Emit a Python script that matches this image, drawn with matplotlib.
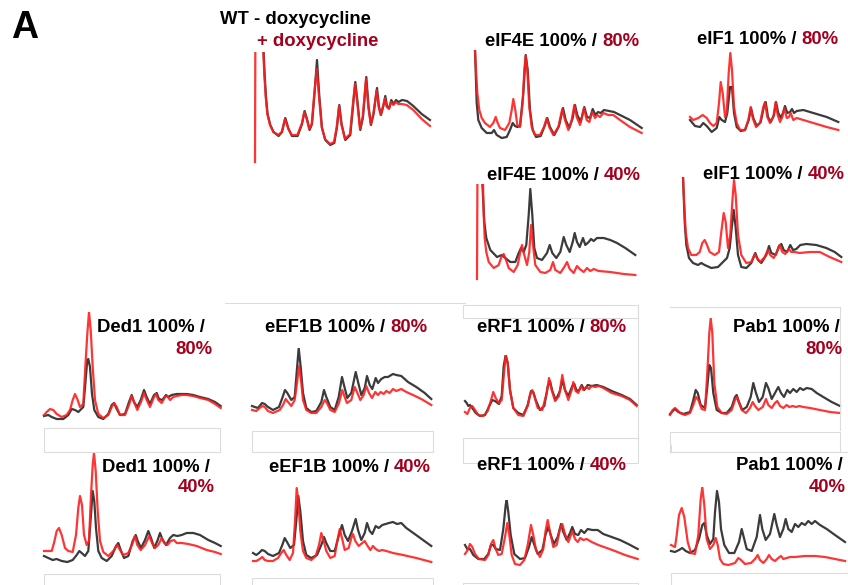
import matplotlib.pyplot as plt
from matplotlib.patches import Rectangle
from matplotlib.lines import Line2D

plt.rcParams['font.family'] = ['Liberation Sans', 'DejaVu Sans']

# polysome traces: (gradient position, A254), per panel
wt_black = [(7.8, 140), (8.6, 110), (9.6, 88), (11, 65), (12.6, 48), (15.3, 37), (18.6, 30), (23.6, 26), (27, 30),
            (30.3, 44), (33.6, 33), (37, 26), (42.6, 26), (47, 38), (49.6, 51), (52, 43), (54.6, 32), (57, 38),
            (59.3, 66), (62, 102), (64.3, 66), (67, 34), (70.3, 22), (75.3, 17), (79.3, 19), (82, 35), (84.3, 57),
            (86.6, 38), (90.3, 22), (95.3, 27), (98.6, 62), (100.3, 80), (102.3, 62), (105.3, 32), (108, 45),
            (111.3, 85), (113.6, 55), (116, 37), (118.6, 48), (122, 74), (124, 55), (126, 47), (128.6, 57),
            (130.3, 66), (132, 56), (134.3, 54), (136.3, 62), (138.6, 58), (141, 62), (143.6, 60), (147, 62),
            (152, 61), (158.3, 56), (166.7, 48), (175, 42)]
wt_red = [(0, 0), (0.4, 140), (8, 140), (8.3, 110), (9.3, 88), (10.7, 65), (12.3, 48), (15, 37), (18.3, 30),
          (23.3, 27), (26.7, 30), (30, 43), (33.3, 33), (36.7, 27), (42.3, 27), (46.7, 38), (49.3, 50), (51.7, 43),
          (54.3, 33), (56.7, 38), (59, 65), (61.7, 93), (64, 65), (66.7, 35), (70, 23), (75, 18), (79, 20),
          (81.7, 35), (84, 56), (86.3, 38), (90, 23), (95, 28), (98.3, 62), (100, 78), (102, 62), (105, 33),
          (107.7, 45), (111, 83), (113.3, 55), (115.7, 38), (118.3, 48), (121.7, 72), (123.7, 55), (125.7, 47),
          (128.3, 57), (130, 64), (131.7, 55), (134, 53), (136, 60), (138.3, 57), (140.7, 60), (143.3, 58),
          (146.7, 58), (151.7, 57), (158.3, 52), (166.7, 43), (175, 36)]

eif4e80_black = [(0, 90), (1.7, 37), (3.3, 20), (6.7, 12), (11.7, 7), (16.7, 7), (19, 10), (21.7, 5), (26.7, 2),
                 (31.7, 3), (35, 10), (37.7, 17), (40, 14), (42.3, 13), (45, 14), (48.3, 47), (50.7, 85), (52.7, 70),
                 (55, 30), (57.7, 10), (61, 3), (65.7, 4), (70, 15), (72.3, 22), (75, 13), (79.3, 5), (84, 14),
                 (88, 32), (90.7, 20), (94.3, 12), (97.7, 22), (100, 35), (102.3, 25), (105.7, 18), (109.3, 33),
                 (112, 23), (115, 22), (117.7, 31), (120.3, 25), (123, 28), (125.7, 27), (129, 30), (134, 29),
                 (139, 28), (145, 25), (155, 20), (166.7, 12)]
eif4e80_red = [(0, 90), (1, 70), (2.3, 47), (4.3, 30), (6.7, 22), (10, 17), (15, 13), (18.3, 17), (20.7, 23),
               (22.7, 17), (25, 12), (30, 10), (34.3, 17), (36.7, 30), (38.3, 41), (40.3, 30), (42.3, 15), (45, 13),
               (47.7, 37), (49.3, 70), (50.7, 84), (52.3, 70), (54.3, 33), (56.7, 13), (60, 5), (65, 5), (69, 13),
               (71.7, 22), (74.3, 13), (78.3, 5), (83.3, 13), (87.3, 31), (90, 20), (93.3, 10), (96.7, 20),
               (99.3, 35), (101.7, 23), (105, 15), (109, 32), (111.7, 20), (114.3, 18), (117.3, 28), (120, 22),
               (122.3, 25), (125, 23), (128.3, 27), (133.3, 25), (138.3, 25), (145, 20), (155, 13), (166.7, 7)]

eif1_80_black = [(0, 15), (5, 9), (10, 8), (13.3, 12), (16.7, 9), (21.7, 3), (26.7, 7), (29.3, 18), (31.7, 15),
                 (35, 13), (37.3, 22), (40, 48), (42, 48), (44, 22), (46.7, 8), (50.7, 4), (55, 5), (58.7, 15),
                 (61, 27), (63.3, 17), (66.7, 9), (70.7, 13), (74.3, 30), (75.7, 33), (78, 18), (80.7, 13), (84, 20),
                 (86, 33), (88.3, 22), (91, 17), (93.3, 23), (95, 29), (97.3, 22), (100, 23), (102, 26), (104, 22),
                 (106.7, 24), (113.3, 25), (123.3, 22), (136.7, 18), (148.3, 13)]
eif1_80_red = [(0, 18), (3.3, 15), (8.3, 17), (12.7, 20), (16.7, 17), (20, 12), (23.3, 9), (26.7, 12), (29, 32),
               (30.7, 53), (32.7, 42), (35, 18), (36.7, 22), (38.7, 62), (40.3, 82), (42, 65), (44, 28), (46.7, 12),
               (50, 5), (55, 5), (58.3, 15), (60.7, 28), (62.7, 17), (66, 8), (70, 12), (73.3, 28), (75, 33),
               (77.3, 18), (80, 12), (83.3, 18), (85.7, 33), (87.7, 20), (90, 13), (92.3, 18), (94.3, 27), (96.7, 17),
               (99, 18), (100.7, 22), (103.3, 15), (106.7, 17), (113.3, 15), (123.3, 12), (136.7, 8), (148.3, 5)]

eif4e40_black = [(5, 120), (5.4, 95), (7.3, 57), (9.3, 41), (13.3, 29), (20, 22), (25, 24), (28.3, 21), (33.3, 17),
                 (38.3, 17), (41.7, 26), (44, 31), (46.7, 27), (49.3, 34), (51.7, 64), (53.3, 90), (55.3, 64),
                 (57.3, 31), (60, 21), (65, 19), (70, 26), (72.7, 34), (75.3, 26), (79.3, 21), (83.3, 27), (86.7, 42),
                 (89.3, 34), (92.7, 27), (95.7, 37), (97.7, 46), (100, 37), (102.7, 32), (106, 41), (108.3, 34),
                 (111.7, 37), (114, 40), (116.7, 38), (120, 41), (126.7, 41), (133.3, 39), (140, 36), (148.3, 31),
                 (158.3, 24)]
eif4e40_red = [(0, 0), (0.5, 120), (5.8, 120), (6, 95), (6.7, 64), (7.7, 41), (9.3, 27), (11.7, 17), (16.7, 11),
               (21.7, 14), (24, 21), (26.7, 25), (29, 19), (31.7, 11), (36.7, 7), (40.7, 14), (43.3, 27), (45, 34),
               (47.3, 24), (50, 14), (52.3, 27), (54, 54), (56, 34), (58.3, 14), (63.3, 7), (68.3, 6), (73.3, 9),
               (76, 17), (78.3, 9), (83.3, 6), (87.3, 12), (90, 17), (92.7, 10), (96.7, 6), (100, 13), (102.7, 10),
               (106.7, 7), (110, 11), (113.3, 8), (116.7, 10), (121.7, 8), (133.3, 7), (146.7, 5), (158.3, 4)]

eif1_40_black = [(0, 94), (1.7, 49), (3.3, 26), (6, 13), (10, 8), (15, 6), (18.3, 8), (21.7, 6), (28.3, 3), (35, 4),
                 (40, 9), (44, 13), (46.7, 23), (48.7, 43), (50.7, 61), (52.7, 43), (55, 16), (58.3, 4), (63.3, 3),
                 (68.3, 8), (72.3, 18), (75, 11), (78.3, 8), (83.3, 16), (86, 25), (88.3, 18), (92.7, 16), (96, 25),
                 (98.3, 27), (100.7, 21), (104, 19), (107.3, 26), (110, 21), (113.3, 22), (117.3, 26), (123.3, 27),
                 (133.3, 26), (143.3, 23), (151.7, 19), (158.3, 14)]
eif1_40_red = [(0, 94), (1.3, 66), (2.7, 39), (5, 23), (8.3, 16), (13.3, 16), (16.7, 19), (19.3, 28), (21.7, 31),
               (24, 26), (26.7, 19), (31.7, 16), (36, 19), (38.3, 39), (40.7, 58), (42.7, 49), (45, 23), (47.3, 36),
               (49.3, 69), (51, 91), (52.7, 76), (55, 36), (58.3, 16), (63.3, 8), (68.3, 9), (71.7, 17), (74, 13),
               (77.3, 9), (81.7, 14), (85, 21), (87.3, 16), (90.7, 13), (94, 19), (96.7, 26), (99.3, 19), (102.3, 17),
               (106, 22), (108.3, 19), (111.7, 19), (116.7, 18), (126.7, 19), (136.7, 19), (146.7, 14), (158.3, 9)]

ded1_80_black = [(0, 5), (4.3, 6), (7.7, 4), (12.7, 2), (19.3, 2), (24.3, 6), (27.7, 12), (31, 11), (34.3, 9),
                 (39.3, 14), (41.3, 37), (43.3, 61), (44.3, 62), (46, 54), (48, 27), (50.3, 11), (54.3, 4), (59.3, 2),
                 (64.3, 7), (67.7, 16), (70, 18), (72.7, 12), (76, 6), (81, 7), (85, 19), (87.7, 26), (90, 19),
                 (93.3, 14), (96.7, 21), (100, 31), (102.7, 24), (106, 17), (110, 26), (112.7, 28), (115, 22),
                 (118.3, 21), (122, 26), (124.3, 24), (127.7, 26), (132.7, 27), (137.7, 27), (142.7, 27), (149.3, 26),
                 (156, 24), (164.3, 22), (171, 19), (176.7, 15)]
ded1_80_red = [(0, 6), (2.7, 9), (6, 12), (9.3, 11), (12.7, 7), (17.7, 4), (22.7, 6), (26, 11), (28.7, 21), (31, 27),
               (33.3, 22), (36, 14), (39.3, 17), (41.3, 54), (43.3, 87), (45, 109), (46.7, 91), (48.7, 54), (51, 21),
               (54.3, 7), (59.3, 3), (64.3, 6), (67.7, 14), (70, 18), (72.7, 14), (76, 6), (81, 6), (85.3, 17),
               (87.7, 25), (90, 19), (93.3, 11), (97, 19), (100, 28), (102.7, 21), (106, 14), (110, 24), (112, 27),
               (114.3, 21), (117.7, 18), (121, 24), (123.3, 25), (126, 21), (129.3, 24), (132.7, 25), (137.7, 26),
               (142.7, 26), (149.3, 25), (156, 23), (164.3, 21), (171, 17), (176.7, 13)]

eef1b80_black = [(0, 9), (2.7, 8), (6, 7), (10, 12), (12.7, 11), (16, 8), (21, 5), (27, 8), (30.3, 17), (33, 25),
                 (35.3, 22), (39.3, 15), (42.7, 18), (44.3, 38), (46.7, 67), (48.7, 48), (51, 22), (54.3, 7),
                 (59.3, 3), (64.3, 4), (69.3, 13), (72, 25), (74.3, 18), (78.3, 8), (82.7, 5), (86.7, 18), (90, 38),
                 (92.7, 27), (95.3, 17), (99.3, 22), (103.7, 43), (106.3, 32), (109.3, 20), (112.7, 27), (115, 39),
                 (117.7, 30), (120.3, 26), (123.7, 37), (126, 32), (129.3, 36), (132.7, 38), (136, 38), (141, 41),
                 (144.3, 40), (149.3, 39), (156, 33), (164.3, 28), (172.7, 22), (179.3, 16)]
eef1b80_red = [(0, 5), (4.3, 4), (7.7, 7), (10.3, 9), (12.7, 8), (16, 4), (21, 2), (27.7, 5), (31, 10), (33.7, 16),
               (36, 13), (39.3, 9), (42.7, 15), (45, 32), (47, 49), (49, 35), (51, 15), (54.3, 5), (59.3, 2),
               (64.3, 2), (69.3, 8), (72.7, 15), (75, 12), (78.3, 5), (82.7, 3), (87, 12), (90.3, 25), (92.7, 18),
               (95, 12), (99.3, 15), (102.7, 28), (105, 23), (108.3, 15), (111.7, 20), (114.3, 29), (117, 22),
               (120, 17), (123.3, 23), (126, 20), (128.7, 23), (131.7, 21), (134.3, 24), (137.7, 22), (141, 26),
               (144.3, 24), (149.3, 26), (154.3, 23), (161, 20), (169.3, 16), (179.3, 10)]

erf1_80_black = [(0, 18), (1.7, 16), (3.3, 13), (5, 14), (7.3, 11), (10.7, 6), (15, 3), (20, 4), (24.3, 13),
                 (27.3, 19), (30, 18), (34, 15), (36.7, 23), (38.7, 53), (40.7, 64), (42.7, 56), (45, 29), (48.3, 11),
                 (53.3, 6), (58.3, 4), (62.7, 14), (66, 28), (68.3, 27), (70.7, 19), (75, 9), (79.3, 13), (82.7, 32),
                 (85, 38), (87.3, 28), (90.7, 19), (95, 28), (97.3, 39), (100, 29), (103.3, 23), (107.3, 33),
                 (109.3, 35), (111.7, 28), (114.3, 29), (116.7, 34), (119.3, 29), (122.7, 34), (126.7, 33),
                 (131.7, 34), (138.3, 32), (146.7, 28), (156.7, 24), (165, 20), (171.7, 14)]
erf1_80_red = [(0, 7), (2.3, 5), (5, 11), (7.3, 13), (10, 9), (13.3, 4), (18.3, 3), (22.7, 8), (26, 19), (28.3, 27),
               (30.7, 21), (34, 16), (36.7, 19), (39, 46), (40.7, 63), (42.7, 56), (45, 29), (48.3, 11), (53.3, 4),
               (58.3, 3), (62.7, 13), (65, 24), (67.3, 29), (69.3, 23), (72.7, 11), (77.3, 9), (81.7, 26), (84, 41),
               (86.7, 29), (90, 18), (94, 23), (97.3, 44), (100, 29), (103.3, 19), (106.7, 29), (108.3, 37),
               (110.7, 28), (113.3, 26), (116, 33), (118.3, 29), (121.7, 32), (124, 30), (126.7, 33), (130, 32),
               (134, 33), (138.3, 31), (146.7, 26), (156.7, 23), (165, 19), (171.7, 13)]

pab1_80_black = [(0, 2), (2.7, 5), (5, 7), (8.3, 4), (13.3, 2), (20, 4), (23.3, 16), (25.7, 26), (27.7, 23),
                 (30.7, 11), (35, 8), (37.3, 29), (39.3, 51), (41, 48), (43.3, 23), (46.7, 6), (51.7, 3), (56.7, 3),
                 (61.7, 9), (65, 19), (66.7, 21), (69, 14), (72.3, 6), (76.7, 9), (80.7, 19), (83.3, 33), (85.7, 24),
                 (89, 14), (92.7, 19), (96, 33), (98.3, 28), (101.7, 17), (105, 23), (108.3, 29), (111, 23), (114, 19),
                 (117.3, 26), (120, 23), (123.3, 27), (126.7, 24), (130, 28), (133.3, 26), (136.7, 28), (141.7, 27),
                 (146.7, 23), (153.3, 19), (161.7, 14), (170, 10)]
pab1_80_red = [(0, 1), (2.7, 6), (5, 8), (7.3, 6), (10, 3), (15, 1), (20, 3), (23.3, 11), (26, 19), (28.3, 16),
               (31.7, 7), (35, 6), (37.3, 43), (39.3, 83), (40.7, 98), (42.3, 83), (44.3, 33), (47.3, 9), (51.7, 3),
               (56.7, 2), (61.7, 6), (65, 16), (66.7, 19), (69, 13), (71.7, 6), (76, 3), (80, 8), (82.7, 14), (85, 10),
               (88.3, 6), (92.7, 9), (96, 17), (98.3, 11), (101.7, 8), (105, 13), (107.3, 15), (110, 10), (113.3, 8),
               (116.7, 11), (119.3, 9), (122.7, 10), (126, 9), (129.3, 10), (133.3, 9), (140, 8), (150, 6), (160, 4),
               (170, 3)]

ded1_40_black = [(0, 8), (4.3, 6), (8.7, 4), (12.7, 5), (17.7, 3), (23.3, 2), (28.7, 4), (32.7, 9), (35.3, 13),
                 (37.7, 11), (41, 8), (44.3, 13), (46, 36), (47.7, 59), (48.7, 73), (50.3, 63), (52, 36), (54.3, 13),
                 (57.7, 6), (62.7, 3), (67.7, 8), (72, 18), (74.3, 21), (76.7, 14), (80, 6), (84.3, 8), (88.7, 23),
                 (91.7, 29), (93.7, 23), (97, 16), (101, 24), (104.3, 33), (107, 26), (110.3, 16), (113.7, 24),
                 (116, 31), (118.7, 24), (122, 19), (126, 26), (129.3, 29), (133.3, 28), (137.7, 29), (142.7, 31),
                 (149.3, 31), (156, 29), (164.3, 24), (171, 21), (176.7, 18)]
ded1_40_red = [(0, 13), (4.3, 13), (7.7, 13), (10, 21), (12.7, 33), (15, 36), (17.7, 29), (21, 16), (24.3, 13),
               (28.7, 12), (32, 29), (34.3, 56), (36, 68), (38, 59), (40, 29), (42.7, 19), (45, 23), (47, 69),
               (48.7, 99), (50, 111), (51.7, 93), (53.7, 53), (56, 23), (59.3, 12), (64.3, 8), (69.3, 13), (73.3, 19),
               (76, 14), (79.3, 9), (84.3, 11), (88.3, 20), (91, 28), (93.3, 19), (96.7, 14), (101, 19), (105.3, 28),
               (108, 21), (111, 16), (114.3, 19), (117.7, 26), (120.3, 21), (123.3, 19), (126.7, 23), (130, 24),
               (132.7, 21), (137.7, 21), (144.3, 20), (152.7, 18), (162.7, 14), (171, 12), (176.7, 10)]

eef1b40_black = [(0, 10), (3.3, 8), (6, 10), (9, 13), (11.7, 12), (15, 9), (20, 7), (26, 10), (29.3, 18),
                 (31.7, 25), (34, 21), (37.3, 15), (41, 18), (43.3, 42), (45.3, 67), (47.3, 52), (50, 22), (53.3, 8),
                 (58.3, 5), (64, 8), (68.3, 18), (71, 26), (73.3, 20), (77.3, 12), (81.7, 12), (86, 28), (89, 38),
                 (91.7, 28), (95, 22), (99, 32), (102.7, 44), (105, 33), (108.3, 23), (111.7, 30), (114, 40),
                 (116.7, 32), (119.3, 29), (122.7, 37), (125.7, 35), (129.3, 38), (132.7, 39), (136, 40), (140, 41),
                 (144, 39), (148.3, 40), (153.3, 35), (161.7, 29), (170, 23), (178.3, 17)]
eef1b40_red = [(0, 2), (3.3, 2), (6.7, 4), (9.3, 6), (11.7, 3), (15, 2), (20, 2), (25, 5), (28.3, 10), (30.7, 13),
               (33.3, 8), (36.7, 3), (40, 10), (42, 42), (43.7, 75), (45.3, 62), (47.3, 32), (50, 12), (53.3, 5),
               (58.3, 3), (62.7, 7), (66, 18), (68.3, 30), (70.7, 22), (73.3, 12), (77.3, 5), (81.7, 7), (84.3, 22),
               (86.7, 34), (89, 25), (91.7, 13), (95.7, 15), (98.3, 25), (100, 29), (102.3, 22), (105.7, 17),
               (109.3, 20), (111.7, 22), (114, 18), (117.3, 13), (120, 17), (122.7, 14), (126, 12), (129.3, 13),
               (133.3, 12), (140, 10), (150, 8), (163.3, 5), (178.3, 1)]

erf1_40_black = [(0, 21), (2.3, 17), (5, 17), (8.3, 11), (13.3, 7), (19.3, 7), (23.3, 12), (26, 21), (28.3, 21),
                 (30.7, 17), (35, 16), (38.3, 37), (40.7, 61), (41.7, 66), (43.3, 54), (45.7, 31), (49.3, 12),
                 (55, 7), (60, 8), (64, 19), (66.7, 29), (69, 22), (72.7, 12), (77.3, 16), (80.7, 32), (83.3, 39),
                 (85.7, 31), (89, 22), (92.7, 29), (96, 42), (98.3, 34), (101.7, 26), (105, 33), (107.3, 39),
                 (110, 32), (113.3, 31), (116, 36), (119.3, 33), (122.7, 37), (127.3, 36), (132.7, 36), (138.3, 32),
                 (146.7, 29), (155, 26), (163.3, 22), (172.7, 17)]
erf1_40_red = [(0, 12), (2.7, 16), (5, 22), (7.3, 19), (10, 12), (14, 7), (20, 6), (23.3, 11), (26, 22), (28.3, 26),
               (30.7, 17), (33.3, 11), (36.7, 12), (40, 29), (42.3, 43), (44.3, 31), (46.7, 11), (50, 2), (55, 1),
               (59.3, 6), (62.7, 21), (66, 41), (68.3, 31), (71, 16), (75, 9), (78.3, 17), (80.7, 36), (82.7, 46),
               (85, 34), (88.3, 19), (91.7, 21), (95, 37), (97.3, 42), (100, 32), (103.3, 24), (106, 31), (107.3, 35),
               (110, 27), (112.7, 24), (115.3, 28), (118.3, 26), (121.7, 27), (126.7, 24), (133.3, 21), (141.7, 18),
               (150, 15), (160, 11), (172.7, 7)]

pab1_40_black = [(0, 16), (4, 15), (8, 17), (11.3, 19), (14.7, 16), (19, 14), (24, 17), (28, 28), (31.3, 42),
                 (33.3, 44), (35.7, 32), (39, 23), (42.3, 28), (44, 55), (46, 76), (48, 65), (50, 38), (53.3, 22),
                 (58, 14), (63.3, 14), (68, 25), (70.7, 38), (72.7, 30), (75.7, 18), (80.7, 16), (85.7, 30), (89, 52),
                 (91.3, 38), (94.7, 27), (99, 33), (103.3, 53), (105.7, 42), (109, 30), (112.3, 38), (114.7, 48),
                 (117.3, 38), (120.7, 35), (124, 43), (127.3, 40), (130.7, 44), (134, 42), (137.3, 46), (140.7, 43),
                 (144, 46), (149, 42), (155.7, 38), (164, 32), (174, 25)]
pab1_40_red = [(0, 22), (4, 20), (5.7, 32), (8, 52), (10.7, 59), (13.3, 50), (16.7, 25), (20, 14), (24, 13),
               (27.3, 32), (29.7, 68), (31.3, 80), (33.3, 62), (35.7, 28), (39, 18), (42.3, 22), (44.7, 29), (46.7, 22),
               (49, 8), (52.3, 3), (57.3, 2), (64, 4), (67.3, 9), (70, 7), (74, 3), (80, 4), (84, 8), (86.7, 12),
               (89, 7), (92.3, 4), (95.7, 8), (98, 12), (100.7, 8), (104, 6), (107.3, 9), (110, 11), (112.3, 8),
               (115.7, 9), (119, 10), (124, 10), (134, 11), (144, 11), (154, 10), (164, 8), (174, 6)]

traces = {
    'wt': (wt_black, wt_red), 'eif4e80': (eif4e80_black, eif4e80_red), 'eif1_80': (eif1_80_black, eif1_80_red),
    'eif4e40': (eif4e40_black, eif4e40_red), 'eif1_40': (eif1_40_black, eif1_40_red),
    'ded1_80': (ded1_80_black, ded1_80_red), 'eef1b80': (eef1b80_black, eef1b80_red),
    'erf1_80': (erf1_80_black, erf1_80_red), 'pab1_80': (pab1_80_black, pab1_80_red),
    'ded1_40': (ded1_40_black, ded1_40_red), 'eef1b40': (eef1b40_black, eef1b40_red),
    'erf1_40': (erf1_40_black, erf1_40_red), 'pab1_40': (pab1_40_black, pab1_40_red),
}

W, H = 848, 585
BLACK, RED, DARKRED = '#262626', '#ff1f1f', '#a3001e'
GRID = '#dcdcdc'
FS = 13.3

fig = plt.figure(figsize=(W / 100, H / 100), dpi=100)

# panel layout in pixels: left, bottom (from top), width, height
layout = {
    'wt': (255, 162, 175, 110), 'eif4e80': (475, 140, 167, 90), 'eif1_80': (690, 135, 148, 83),
    'eif4e40': (477, 279, 158, 95), 'eif1_40': (683, 271, 158, 94),
    'ded1_80': (44, 421, 177, 109), 'eef1b80': (252, 415, 179, 67), 'erf1_80': (465, 419, 172, 64),
    'pab1_80': (670, 416, 170, 98),
    'ded1_40': (44, 564, 177, 111), 'eef1b40': (253, 563, 178, 76), 'erf1_40': (465, 566, 173, 66),
    'pab1_40': (671, 567, 174, 80),
}

for key, (left, bottom, w, h) in layout.items():
    ax = fig.add_axes([(left - 2) / W, 1 - (bottom + 2) / H, (w + 4) / W, (h + 2) / H])
    ax.set_xlim(-2, w + 2)
    ax.set_ylim(-2, h)
    ax.axis('off')
    black, red = traces[key]
    bx, by = zip(*black)
    rx, ry = zip(*red)
    ax.plot(bx, by, color=BLACK, lw=1.6, alpha=0.9, solid_joinstyle='round')
    ax.plot(rx, ry, color=RED, lw=1.6, alpha=0.9, solid_joinstyle='round')


def ftext(x, y, s, **kw):
    kw.setdefault('fontsize', FS)
    kw.setdefault('fontweight', 'bold')
    kw.setdefault('va', 'center')
    return fig.text(x / W, 1 - y / H, s, **kw)


ftext(11, 28, 'A', fontsize=27)
ftext(220, 20, 'WT - doxycycline', color='black')
ftext(257, 42, '+ doxycycline', color=DARKRED)

single = [(485, 41, 'eIF4E', '80%'), (697, 40, 'eIF1', '80%'), (487, 175, 'eIF4E', '40%'),
          (703, 174, 'eIF1', '40%'), (265, 327, 'eEF1B', '80%'), (477, 327, 'eRF1', '80%'),
          (269, 467, 'eEF1B', '40%'), (477, 465, 'eRF1', '40%')]
for x, y, name, pct in single:
    t = ftext(x, y, name + ' 100% / ', color='black')
    fig.canvas.draw()
    bb = t.get_window_extent()
    fig.text(bb.x1 / W, bb.y0 / H, pct, color=DARKRED, fontsize=FS, fontweight='bold', va='bottom')

double = [(205, 327, 212, 349, 'Ded1', '80%'), (840, 327, 843, 350, 'Pab1', '80%'),
          (210, 467, 215, 488, 'Ded1', '40%'), (843, 466, 846, 488, 'Pab1', '40%')]
for x1, y1, x2, y2, name, pct in double:
    ftext(x1, y1, name + ' 100% /', color='black', ha='right')
    ftext(x2, y2, pct, color=DARKRED, ha='right')

# faint leftover panel frames
rects = [(44, 428, 176, 24), (252, 431, 181, 21), (463, 305, 175, 13), (463, 438, 175, 25), (670, 432, 170, 20),
         (44, 574, 176, 20), (252, 578, 181, 20), (463, 583, 175, 10), (671, 573, 180, 20)]
for x, y, w, h in rects:
    fig.add_artist(Rectangle((x / W, 1 - (y + h) / H), w / W, h / H, transform=fig.transFigure,
                             fill=False, ec=GRID, lw=0.8))
segs = [((225, 465), (303, 303)), ((638, 638), (305, 438)), ((670, 840), (307, 307)), ((840, 840), (307, 430)),
        ((671, 848), (452, 452)), ((671, 671), (445, 452))]
for xs, ys in segs:
    fig.add_artist(Line2D([v / W for v in xs], [1 - v / H for v in ys], transform=fig.transFigure,
                          color=GRID, lw=0.8))

fig.savefig('out.png', dpi=100)
